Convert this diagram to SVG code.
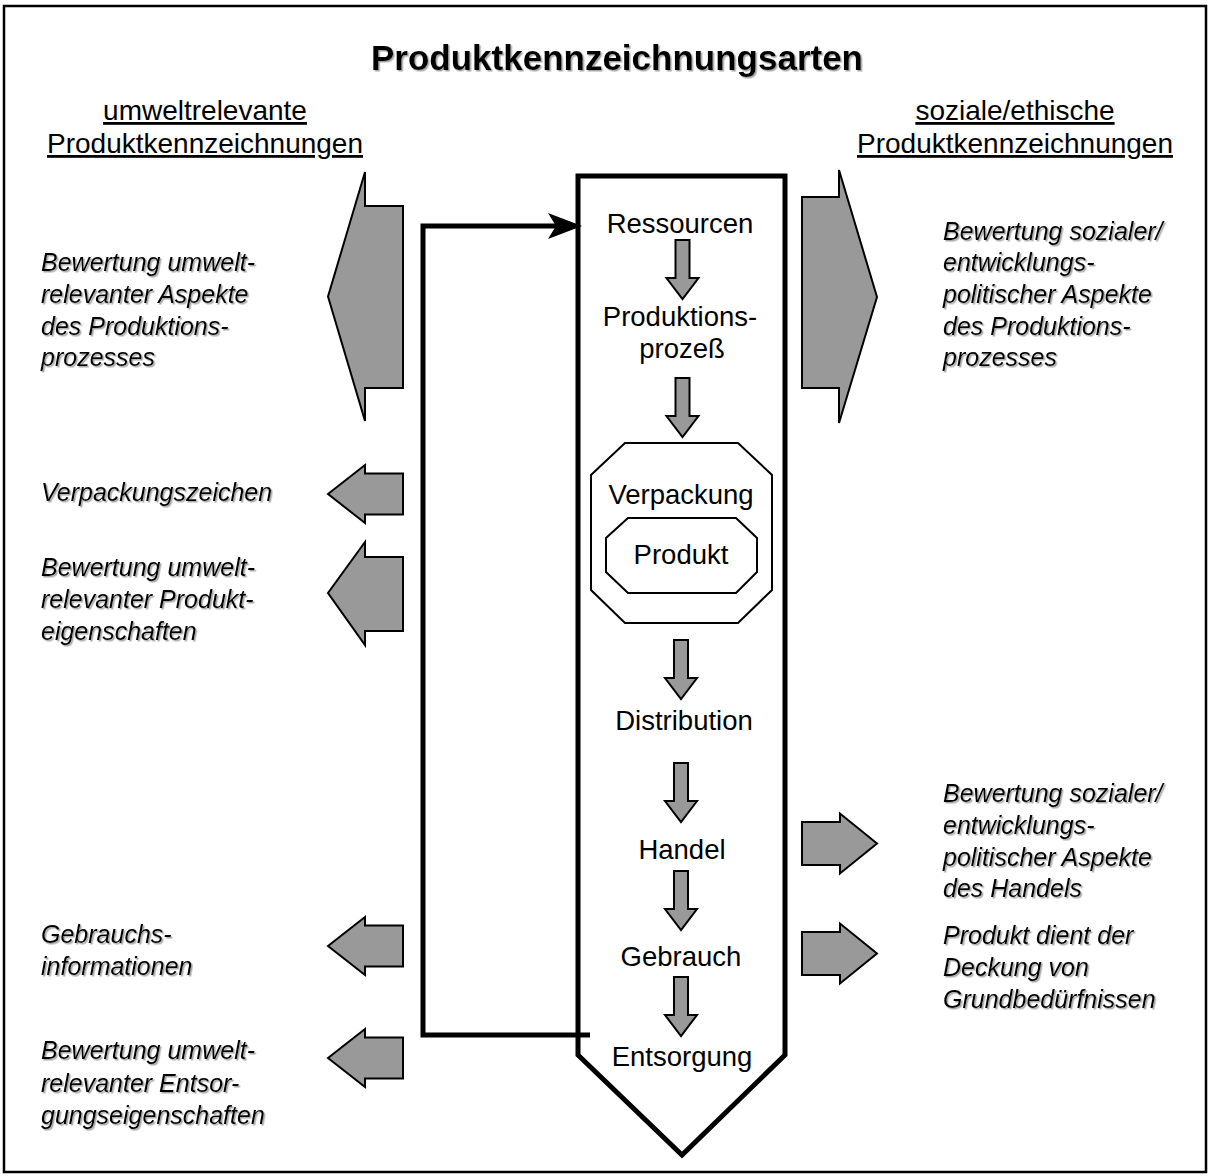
<svg xmlns="http://www.w3.org/2000/svg" width="1210" height="1176" viewBox="0 0 1210 1176">
  <style>
    .frame { fill: #ffffff; stroke: #000000; stroke-width: 2.5; }
    text { font-family: "Liberation Sans", Arial, sans-serif; fill: #000; }
    .title { font-weight: bold; font-size: 35px; text-anchor: middle; }
    .sub { font-size: 28px; text-anchor: middle; text-decoration: underline; }
    .lbl { font-size: 27.5px; text-anchor: middle; }
    .it { font-style: italic; font-size: 25px; }
    .garrow { fill: #999999; stroke: #000000; stroke-width: 2; stroke-linejoin: miter; }
    .column { fill: none; stroke: #000000; stroke-width: 5; stroke-linejoin: miter; }
    .oct { fill: none; stroke: #000000; stroke-width: 2; }
    .conn { fill: none; stroke: #000000; stroke-width: 5; stroke-linejoin: miter; }
  </style>
  <defs>
    <filter id="shadow" x="-5%" y="-20%" width="110%" height="140%">
      <feDropShadow dx="1.5" dy="1.5" stdDeviation="0.7" flood-color="#808080" flood-opacity="0.7"/>
    </filter>
    <path id="down" d="M-7,0 H7 V38 H16 L0,59 L-16,38 H-7 Z"/>
    <path id="smallLeft" d="M0,0 L37,-29 V-20.5 H75 V20.5 H37 V29 Z"/>
    <path id="smallRight" d="M0,0 L-37,-30 V-21.5 H-75 V21.5 H-37 V30 Z"/>
    <marker id="head" viewBox="0 0 34 26" refX="22" refY="13" markerWidth="34" markerHeight="26" markerUnits="userSpaceOnUse" orient="auto">
      <path d="M0,0 L34,13 L0,26 L8,13 Z" fill="#000"/>
    </marker>
  </defs>

  <rect class="frame" x="4" y="6" width="1202" height="1166"/>

  <g id="title">
    <text class="title" x="617" y="70" filter="url(#shadow)">Produktkennzeichnungsarten</text>
  </g>

  <g id="heading-left">
    <text class="sub" x="205" y="120">umweltrelevante</text>
    <text class="sub" x="205" y="153">Produktkennzeichnungen</text>
  </g>
  <g id="heading-right">
    <text class="sub" x="1015" y="120">soziale/ethische</text>
    <text class="sub" x="1015" y="153">Produktkennzeichnungen</text>
  </g>

  <g id="lifecycle">
    <path class="column" d="M578,176 H785 V1055 L682,1155 L578,1055 Z"/>
  </g>

  <g id="ressourcen">
    <text class="lbl" x="680" y="233">Ressourcen</text>
  </g>
  <g id="produktionsprozess">
    <text class="lbl" x="680" y="326">Produktions-</text>
    <text class="lbl" x="682" y="358">prozeß</text>
  </g>
  <g id="verpackung">
    <polygon class="oct" points="625,443 738,443 772,475 772,590 738,623 625,623 591,590 591,475"/>
    <text class="lbl" x="681" y="504">Verpackung</text>
  </g>
  <g id="produkt">
    <polygon class="oct" points="628,518 736,518 757,538 757,572 736,593 628,593 606,572 606,538"/>
    <text class="lbl" x="681" y="564">Produkt</text>
  </g>
  <g id="distribution">
    <text class="lbl" x="684" y="730">Distribution</text>
  </g>
  <g id="handel">
    <text class="lbl" x="682" y="859">Handel</text>
  </g>
  <g id="gebrauch">
    <text class="lbl" x="681" y="966">Gebrauch</text>
  </g>
  <g id="entsorgung">
    <text class="lbl" x="682" y="1066">Entsorgung</text>
  </g>

  <g id="flow-arrows">
    <use href="#down" class="garrow" transform="translate(682.5,240)"/>
    <use href="#down" class="garrow" transform="translate(682.5,378)"/>
    <use href="#down" class="garrow" transform="translate(681,640)"/>
    <use href="#down" class="garrow" transform="translate(681,763)"/>
    <use href="#down" class="garrow" transform="translate(681,871)"/>
    <use href="#down" class="garrow" transform="translate(681,977)"/>
  </g>

  <g id="connectors">
    <path class="conn" d="M590,1035 H423 V226 H570" marker-end="url(#head)"/>
  </g>

  <g id="label-arrows-left">
    <path class="garrow" d="M365,172 L328,296.5 L365,421 V388 H403 V206 H365 Z"/>
    <use href="#smallLeft" class="garrow" transform="translate(328,494)"/>
    <path class="garrow" d="M365,542 L328,593 L365,645 V631 H403 V557 H365 Z"/>
    <use href="#smallLeft" class="garrow" transform="translate(328,946)"/>
    <use href="#smallLeft" class="garrow" transform="translate(328,1058)"/>
  </g>
  <g id="label-arrows-right">
    <path class="garrow" d="M839,170 L877,297 L839,423 V388 H802 V197 H839 Z"/>
    <use href="#smallRight" class="garrow" transform="translate(877,843.5)"/>
    <use href="#smallRight" class="garrow" transform="translate(877,953.5)"/>
  </g>

  <g id="text-left-1" filter="url(#shadow)">
    <text class="it"><tspan x="41" y="271">Bewertung umwelt-</tspan><tspan x="41" y="303">relevanter Aspekte</tspan><tspan x="41" y="335">des Produktions-</tspan><tspan x="41" y="366">prozesses</tspan></text>
  </g>
  <g id="text-left-2" filter="url(#shadow)">
    <text class="it" x="41" y="501">Verpackungszeichen</text>
  </g>
  <g id="text-left-3" filter="url(#shadow)">
    <text class="it"><tspan x="41" y="576">Bewertung umwelt-</tspan><tspan x="41" y="608">relevanter Produkt-</tspan><tspan x="41" y="640">eigenschaften</tspan></text>
  </g>
  <g id="text-left-4" filter="url(#shadow)">
    <text class="it"><tspan x="41" y="943">Gebrauchs-</tspan><tspan x="41" y="975">informationen</tspan></text>
  </g>
  <g id="text-left-5" filter="url(#shadow)">
    <text class="it"><tspan x="41" y="1059">Bewertung umwelt-</tspan><tspan x="41" y="1092">relevanter Entsor-</tspan><tspan x="41" y="1124">gungseigenschaften</tspan></text>
  </g>
  <g id="text-right-1" filter="url(#shadow)">
    <text class="it"><tspan x="943" y="240">Bewertung sozialer/</tspan><tspan x="943" y="271">entwicklungs-</tspan><tspan x="943" y="303">politischer Aspekte</tspan><tspan x="943" y="335">des Produktions-</tspan><tspan x="943" y="366">prozesses</tspan></text>
  </g>
  <g id="text-right-2" filter="url(#shadow)">
    <text class="it"><tspan x="943" y="802">Bewertung sozialer/</tspan><tspan x="943" y="834">entwicklungs-</tspan><tspan x="943" y="866">politischer Aspekte</tspan><tspan x="943" y="897">des Handels</tspan></text>
  </g>
  <g id="text-right-3" filter="url(#shadow)">
    <text class="it"><tspan x="943" y="944">Produkt dient der</tspan><tspan x="943" y="976">Deckung von</tspan><tspan x="943" y="1008">Grundbedürfnissen</tspan></text>
  </g>
</svg>
